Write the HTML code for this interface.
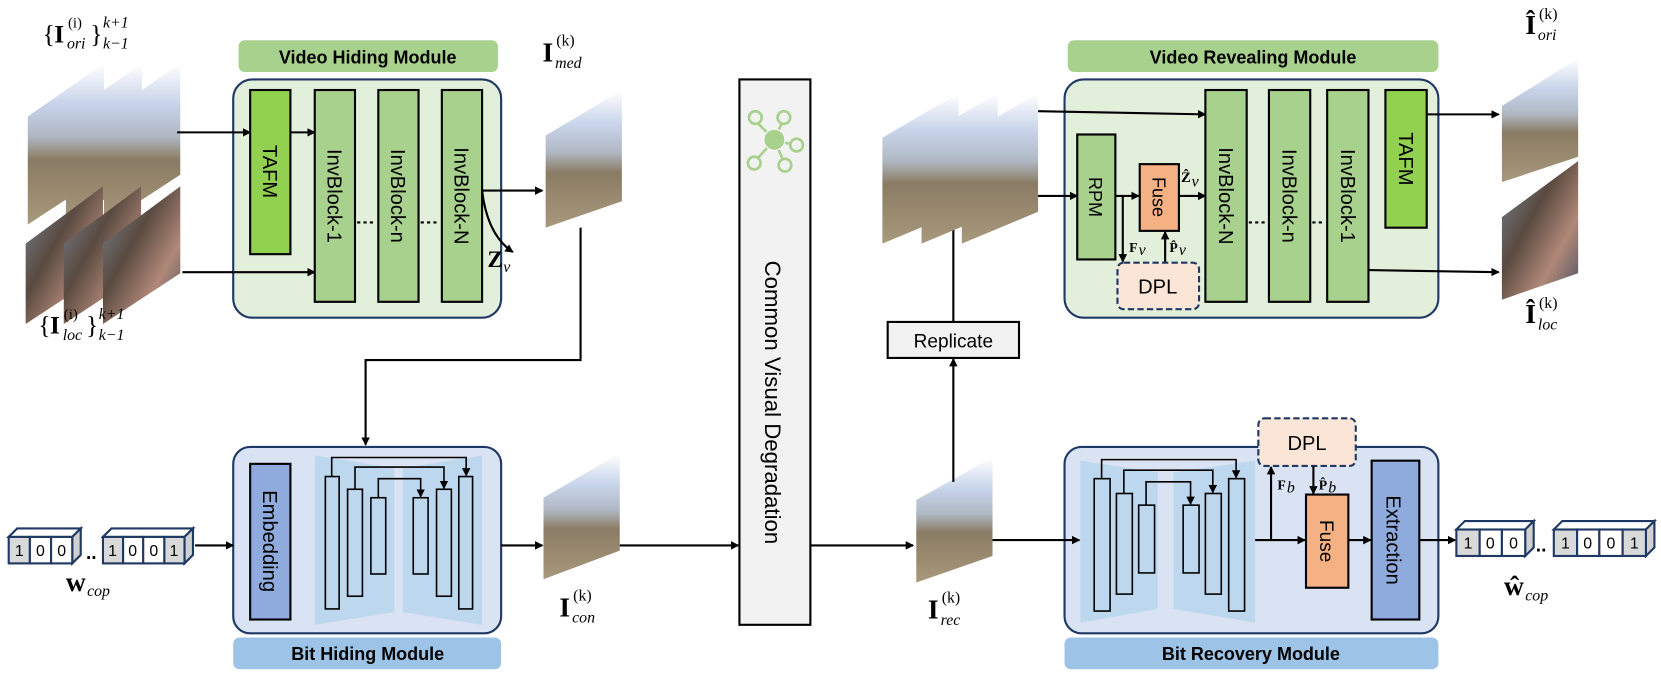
<!DOCTYPE html>
<html><head><meta charset="utf-8"><style>
html,body{margin:0;padding:0;background:#fff;}
svg{display:block;}
.t{font-family:"Liberation Sans",sans-serif;}
.m{font-family:"Liberation Serif",serif;}
.s{font-size:15px;font-style:italic;}
</style></head><body>
<svg width="1661" height="682" viewBox="0 0 1568 644" xmlns="http://www.w3.org/2000/svg">
<defs>
<marker id="a" markerWidth="8" markerHeight="8" refX="7" refY="4" orient="auto" markerUnits="userSpaceOnUse"><path d="M0,0 L8,4 L0,8 Z" fill="#000"/></marker>
<linearGradient id="land" x1="0" y1="0" x2="0" y2="1">
<stop offset="0" stop-color="#ffffff"/><stop offset="0.25" stop-color="#c8d4ea"/><stop offset="0.45" stop-color="#b0b8c4"/><stop offset="0.6" stop-color="#8a7c64"/><stop offset="1" stop-color="#a8987c"/></linearGradient>
<linearGradient id="face" x1="0" y1="0" x2="1" y2="1">
<stop offset="0" stop-color="#7a8898"/><stop offset="0.4" stop-color="#5a4a40"/><stop offset="0.7" stop-color="#b08878"/><stop offset="1" stop-color="#4a5060"/></linearGradient>
</defs>

<!-- input frames ori -->
<polygon points="26,110 98,60 98,165 26,212" fill="url(#land)"/>
<polygon points="62,110 134,60 134,165 62,212" fill="url(#land)"/>
<polygon points="98,110 170,60 170,165 98,212" fill="url(#land)"/>
<polygon points="24,230 97,176 97,258 24,306" fill="url(#face)"/>
<polygon points="60,230 133,176 133,258 60,306" fill="url(#face)"/>
<polygon points="97,230 170,176 170,258 97,306" fill="url(#face)"/>
<g class="m">
<text x="40" y="40" font-size="24">{</text>
<text x="51" y="40" font-size="24" font-weight="bold">I</text>
<text x="64" y="26" font-size="14">(i)</text>
<text x="63" y="46" class="s" font-size="15">ori</text>
<text x="85" y="40" font-size="24">}</text>
<text x="97" y="26" class="s" font-size="15">k+1</text>
<text x="97" y="46" class="s" font-size="15">k−1</text>

<text x="36" y="315" font-size="24">{</text>
<text x="47" y="315" font-size="24" font-weight="bold">I</text>
<text x="60" y="301" font-size="14">(i)</text>
<text x="59" y="321" class="s" font-size="15">loc</text>
<text x="81" y="315" font-size="24">}</text>
<text x="93" y="301" class="s" font-size="15">k+1</text>
<text x="93" y="321" class="s" font-size="15">k−1</text>
</g>

<!-- Video Hiding Module -->
<rect x="225" y="38" width="245" height="30" rx="6" fill="#a9d18e"/>
<text class="t" x="347" y="60" font-size="17" font-weight="bold" text-anchor="middle">Video Hiding Module</text>
<rect x="220" y="75" width="253" height="225" rx="18" fill="#e2efda" stroke="#1f3864" stroke-width="2"/>
<rect x="236" y="85" width="38" height="155" fill="#92d050" stroke="#000" stroke-width="2"/>
<rect x="297" y="85" width="38" height="200" fill="#a9d18e" stroke="#000" stroke-width="2"/>
<rect x="357" y="85" width="38" height="200" fill="#a9d18e" stroke="#000" stroke-width="2"/>
<rect x="417" y="85" width="38" height="200" fill="#a9d18e" stroke="#000" stroke-width="2"/>
<g class="t" font-size="19">
<text transform="translate(248,162) rotate(90)" text-anchor="middle">TAFM</text>
<text transform="translate(309,185) rotate(90)" text-anchor="middle">InvBlock-1</text>
<text transform="translate(369,185) rotate(90)" text-anchor="middle">InvBlock-n</text>
<text transform="translate(429,185) rotate(90)" text-anchor="middle">InvBlock-N</text>
</g>
<line x1="337" y1="210" x2="355" y2="210" stroke="#000" stroke-width="2" stroke-dasharray="3,3"/>
<line x1="397" y1="210" x2="415" y2="210" stroke="#000" stroke-width="2" stroke-dasharray="3,3"/>
<line x1="167" y1="125" x2="236" y2="125" stroke="#000" stroke-width="2" marker-end="url(#a)"/>
<line x1="274" y1="125" x2="297" y2="125" stroke="#000" stroke-width="2" marker-end="url(#a)"/>
<line x1="172" y1="257" x2="297" y2="257" stroke="#000" stroke-width="2" marker-end="url(#a)"/>
<line x1="455" y1="180" x2="512" y2="180" stroke="#000" stroke-width="2" marker-end="url(#a)"/>
<path d="M455,180 Q460,222 484,238" fill="none" stroke="#000" stroke-width="2" marker-end="url(#a)"/>
<g class="m">
<text x="460" y="252" font-size="22" font-weight="bold">Z</text>
<text x="475" y="257" class="s" font-size="14">v</text>

<text x="512" y="58" font-size="26" font-weight="bold">I</text>
<text x="525" y="43" font-size="15">(k)</text>
<text x="524" y="64" class="s">med</text>

<text x="528" y="582" font-size="26" font-weight="bold">I</text>
<text x="541" y="567" font-size="15">(k)</text>
<text x="540" y="588" class="s">con</text>

<text x="876" y="584" font-size="26" font-weight="bold">I</text>
<text x="889" y="569" font-size="15">(k)</text>
<text x="888" y="590" class="s">rec</text>

<text x="1440" y="32" font-size="26" font-weight="bold">Î</text>
<text x="1453" y="18" font-size="15">(k)</text>
<text x="1452" y="38" class="s">ori</text>

<text x="1440" y="305" font-size="26" font-weight="bold">Î</text>
<text x="1453" y="291" font-size="15">(k)</text>
<text x="1452" y="311" class="s">loc</text>
</g>

<polygon points="515,128 587,85 587,190 515,215" fill="url(#land)"/>
<polyline points="548,215 548,340 345,340 345,420" fill="none" stroke="#000" stroke-width="2" marker-end="url(#a)"/>

<!-- Bit Hiding Module -->
<rect x="220" y="422" width="253" height="176" rx="16" fill="#dae3f3" stroke="#1f3864" stroke-width="2"/>
<rect x="220" y="602" width="253" height="30" rx="6" fill="#9dc3e6"/>
<text class="t" x="347" y="623" font-size="17" font-weight="bold" text-anchor="middle">Bit Hiding Module</text>
<rect x="236" y="438" width="38" height="147" fill="#8faadc" stroke="#000" stroke-width="2"/>
<text class="t" transform="translate(248,511) rotate(90)" font-size="19" text-anchor="middle">Embedding</text>
<polygon points="297,430 372,442 372,578 297,590" fill="#bdd7ee"/>
<polygon points="380,442 455,430 455,590 380,578" fill="#bdd7ee"/>
<g fill="#bdd7ee" stroke="#000" stroke-width="1.5">
<rect x="307" y="450" width="13" height="125"/><rect x="328" y="462" width="14" height="101"/><rect x="350" y="470" width="14" height="72"/>
<rect x="390" y="470" width="14" height="72"/><rect x="412" y="462" width="14" height="101"/><rect x="433" y="450" width="13" height="125"/>
</g>
<g fill="none" stroke="#000" stroke-width="1.5">
<polyline points="313,450 313,432 440,432 440,449" marker-end="url(#a)"/>
<polyline points="335,462 335,441 419,441 419,461" marker-end="url(#a)"/>
<polyline points="357,470 357,452 397,452 397,469" marker-end="url(#a)"/>
</g>

<!-- bits left -->
<g stroke="#1f3864" stroke-width="2">
<polygon points="8,507 16,499 76,499 68,507" fill="#fff"/>
<polygon points="68,507 76,499 76,524 68,532" fill="#d0d0d0"/>
<rect x="8" y="507" width="20" height="25" fill="#d9d9d9"/><rect x="28" y="507" width="20" height="25" fill="#fff"/><rect x="48" y="507" width="20" height="25" fill="#fff"/>
<polygon points="97,507 105,499 182,499 174,507" fill="#fff"/>
<polygon points="174,507 182,499 182,524 174,532" fill="#d0d0d0"/>
<rect x="97" y="507" width="19" height="25" fill="#d9d9d9"/><rect x="116" y="507" width="19" height="25" fill="#fff"/><rect x="135" y="507" width="20" height="25" fill="#fff"/><rect x="155" y="507" width="19" height="25" fill="#d9d9d9"/>
</g>
<g class="t" font-size="15" text-anchor="middle">
<text x="18" y="525">1</text><text x="38" y="525">0</text><text x="58" y="525">0</text>
<text x="86" y="528" font-weight="bold" font-size="18">..</text>
<text x="106" y="525">1</text><text x="125" y="525">0</text><text x="145" y="525">0</text><text x="164" y="525">1</text>
</g>
<line x1="184" y1="515" x2="220" y2="515" stroke="#000" stroke-width="2" marker-end="url(#a)"/>
<text class="m" x="62" y="558" font-size="26" font-weight="bold">w</text>
<text class="m s" x="82" y="563" font-size="19">cop</text>

<!-- I_con -->
<line x1="473" y1="515" x2="512" y2="515" stroke="#000" stroke-width="2" marker-end="url(#a)"/>
<polygon points="513,470 585,428 585,520 513,547" fill="url(#land)"/>
<line x1="585" y1="515" x2="697" y2="515" stroke="#000" stroke-width="2" marker-end="url(#a)"/>

<!-- CVD -->
<rect x="698" y="75" width="67" height="515" fill="#f2f2f2" stroke="#000" stroke-width="2"/>
<g stroke="#a9d18e" stroke-width="2.5" fill="none">
<line x1="731" y1="132" x2="713" y2="114"/><line x1="731" y1="132" x2="739" y2="114"/><line x1="731" y1="132" x2="750" y2="137"/><line x1="731" y1="132" x2="713" y2="152"/><line x1="731" y1="132" x2="740" y2="153"/>
<circle cx="713" cy="111" r="6" fill="#f2f2f2"/><circle cx="740" cy="111" r="6" fill="#f2f2f2"/><circle cx="752" cy="137" r="6" fill="#f2f2f2"/><circle cx="712" cy="154" r="6" fill="#f2f2f2"/><circle cx="741" cy="156" r="6" fill="#f2f2f2"/>
<circle cx="731" cy="132" r="10" fill="#a9d18e" stroke="#fff" stroke-width="1"/>
</g>
<text class="t" transform="translate(722,380) rotate(90)" font-size="21" text-anchor="middle">Common Visual Degradation</text>
<line x1="765" y1="515" x2="862" y2="515" stroke="#000" stroke-width="2" marker-end="url(#a)"/>

<!-- I_rec -->
<polygon points="865,472 937,432 937,525 865,550" fill="url(#land)"/>
<line x1="900" y1="455" x2="900" y2="339" stroke="#000" stroke-width="2" marker-end="url(#a)"/>
<rect x="838" y="304" width="124" height="34" fill="#f2f2f2" stroke="#000" stroke-width="2"/>
<text class="t" x="900" y="328" font-size="18" text-anchor="middle">Replicate</text>
<line x1="900" y1="304" x2="900" y2="188" stroke="#000" stroke-width="2" marker-end="url(#a)"/>

<polygon points="833,130 905,88 905,200 833,230" fill="url(#land)"/>
<polygon points="870,130 942,88 942,200 870,230" fill="url(#land)"/>
<polygon points="908,130 980,88 980,200 908,230" fill="url(#land)"/>

<!-- Video Revealing Module -->
<rect x="1008" y="38" width="350" height="30" rx="6" fill="#a9d18e"/>
<text class="t" x="1183" y="60" font-size="17" font-weight="bold" text-anchor="middle">Video Revealing Module</text>
<rect x="1005" y="75" width="353" height="225" rx="18" fill="#e2efda" stroke="#1f3864" stroke-width="2"/>
<line x1="980" y1="105" x2="1138" y2="108" stroke="#000" stroke-width="2" marker-end="url(#a)"/>
<line x1="980" y1="185" x2="1017" y2="185" stroke="#000" stroke-width="2" marker-end="url(#a)"/>
<rect x="1017" y="127" width="36" height="118" fill="#a9d18e" stroke="#000" stroke-width="2"/>
<text class="t" transform="translate(1028,186) rotate(90)" font-size="17" text-anchor="middle">RPM</text>
<line x1="1053" y1="185" x2="1075" y2="185" stroke="#000" stroke-width="2" marker-end="url(#a)"/>
<rect x="1076" y="155" width="37" height="63" fill="#f4b183" stroke="#000" stroke-width="2"/>
<text class="t" transform="translate(1088,186) rotate(90)" font-size="17" text-anchor="middle">Fuse</text>
<text class="m" x="1115" y="172" font-size="14" font-weight="bold">Ẑ</text>
<text class="m s" x="1125" y="176" font-size="10">v</text>
<line x1="1113" y1="185" x2="1138" y2="185" stroke="#000" stroke-width="2" marker-end="url(#a)"/>
<line x1="1060" y1="185" x2="1060" y2="247" stroke="#000" stroke-width="2" marker-end="url(#a)"/>
<line x1="1100" y1="248" x2="1100" y2="219" stroke="#000" stroke-width="2" marker-end="url(#a)"/>
<rect x="1055" y="248" width="77" height="44" rx="6" fill="#fbe5d6" stroke="#1f3864" stroke-width="2" stroke-dasharray="6,3"/>
<text class="t" x="1093" y="277" font-size="19" text-anchor="middle">DPL</text>
<text class="m" x="1066" y="238" font-size="13" font-weight="bold">F</text><text class="m s" x="1075" y="241" font-size="9">v</text>
<text class="m" x="1104" y="238" font-size="13" font-weight="bold">P̂</text><text class="m s" x="1113" y="241" font-size="9">v</text>
<rect x="1138" y="85" width="39" height="200" fill="#a9d18e" stroke="#000" stroke-width="2"/>
<rect x="1198" y="85" width="39" height="200" fill="#a9d18e" stroke="#000" stroke-width="2"/>
<rect x="1253" y="85" width="39" height="200" fill="#a9d18e" stroke="#000" stroke-width="2"/>
<rect x="1308" y="85" width="39" height="130" fill="#92d050" stroke="#000" stroke-width="2"/>
<g class="t" font-size="19">
<text transform="translate(1151,185) rotate(90)" text-anchor="middle">InvBlock-N</text>
<text transform="translate(1211,185) rotate(90)" text-anchor="middle">InvBlock-n</text>
<text transform="translate(1266,185) rotate(90)" text-anchor="middle">InvBlock-1</text>
<text transform="translate(1321,150) rotate(90)" text-anchor="middle">TAFM</text>
</g>
<line x1="1179" y1="210" x2="1196" y2="210" stroke="#000" stroke-width="2" stroke-dasharray="3,3"/>
<line x1="1239" y1="210" x2="1251" y2="210" stroke="#000" stroke-width="2" stroke-dasharray="3,3"/>
<line x1="1347" y1="108" x2="1415" y2="108" stroke="#000" stroke-width="2" marker-end="url(#a)"/>
<line x1="1292" y1="255" x2="1415" y2="257" stroke="#000" stroke-width="2" marker-end="url(#a)"/>

<polygon points="1418,100 1490,55 1490,148 1418,172" fill="url(#land)"/>
<polygon points="1418,205 1490,152 1490,258 1418,283" fill="url(#face)"/>

<!-- Bit Recovery Module -->
<rect x="1005" y="422" width="353" height="176" rx="16" fill="#dae3f3" stroke="#1f3864" stroke-width="2"/>
<rect x="1005" y="602" width="353" height="30" rx="6" fill="#9dc3e6"/>
<text class="t" x="1181" y="623" font-size="17" font-weight="bold" text-anchor="middle">Bit Recovery Module</text>
<line x1="937" y1="510" x2="1019" y2="510" stroke="#000" stroke-width="2" marker-end="url(#a)"/>
<polygon points="1020,435 1093,446 1093,575 1020,588" fill="#bdd7ee"/>
<polygon points="1108,446 1185,435 1185,588 1108,575" fill="#bdd7ee"/>
<g fill="#bdd7ee" stroke="#000" stroke-width="1.5">
<rect x="1033" y="452" width="15" height="125"/><rect x="1054" y="466" width="15" height="95"/><rect x="1075" y="477" width="15" height="64"/>
<rect x="1117" y="477" width="15" height="64"/><rect x="1138" y="466" width="15" height="95"/><rect x="1160" y="452" width="15" height="125"/>
</g>
<g fill="none" stroke="#000" stroke-width="1.5">
<polyline points="1040,452 1040,434 1167,434 1167,451" marker-end="url(#a)"/>
<polyline points="1061,466 1061,444 1145,444 1145,465" marker-end="url(#a)"/>
<polyline points="1082,477 1082,455 1124,455 1124,476" marker-end="url(#a)"/>
</g>
<line x1="1185" y1="510" x2="1232" y2="510" stroke="#000" stroke-width="2" marker-end="url(#a)"/>
<line x1="1200" y1="510" x2="1200" y2="441" stroke="#000" stroke-width="2" marker-end="url(#a)"/>
<rect x="1188" y="395" width="92" height="45" rx="6" fill="#fbe5d6" stroke="#1f3864" stroke-width="2" stroke-dasharray="6,3"/>
<text class="t" x="1234" y="425" font-size="19" text-anchor="middle">DPL</text>
<line x1="1240" y1="440" x2="1240" y2="466" stroke="#000" stroke-width="2" marker-end="url(#a)"/>
<text class="m" x="1206" y="462" font-size="13" font-weight="bold">F</text><text class="m s" x="1215" y="465" font-size="9">b</text>
<text class="m" x="1245" y="462" font-size="13" font-weight="bold">P̂</text><text class="m s" x="1254" y="465" font-size="9">b</text>
<rect x="1233" y="467" width="40" height="88" fill="#f4b183" stroke="#000" stroke-width="2"/>
<text class="t" transform="translate(1246,511) rotate(90)" font-size="18" text-anchor="middle">Fuse</text>
<line x1="1273" y1="510" x2="1294" y2="510" stroke="#000" stroke-width="2" marker-end="url(#a)"/>
<rect x="1295" y="435" width="45" height="150" fill="#8faadc" stroke="#000" stroke-width="2"/>
<text class="t" transform="translate(1309,510) rotate(90)" font-size="19" text-anchor="middle">Extraction</text>
<line x1="1340" y1="510" x2="1374" y2="510" stroke="#000" stroke-width="2" marker-end="url(#a)"/>

<!-- bits right -->
<g stroke="#1f3864" stroke-width="2">
<polygon points="1375,500 1383,492 1448,492 1440,500" fill="#fff"/>
<polygon points="1440,500 1448,492 1448,517 1440,525" fill="#d0d0d0"/>
<rect x="1375" y="500" width="22" height="25" fill="#d9d9d9"/><rect x="1397" y="500" width="21" height="25" fill="#fff"/><rect x="1418" y="500" width="22" height="25" fill="#fff"/>
<polygon points="1467,500 1475,492 1562,492 1554,500" fill="#fff"/>
<polygon points="1554,500 1562,492 1562,517 1554,525" fill="#d0d0d0"/>
<rect x="1467" y="500" width="22" height="25" fill="#d9d9d9"/><rect x="1489" y="500" width="21" height="25" fill="#fff"/><rect x="1510" y="500" width="22" height="25" fill="#fff"/><rect x="1532" y="500" width="22" height="25" fill="#d9d9d9"/>
</g>
<g class="t" font-size="15" text-anchor="middle">
<text x="1386" y="518">1</text><text x="1407" y="518">0</text><text x="1429" y="518">0</text>
<text x="1455" y="521" font-weight="bold" font-size="18">..</text>
<text x="1478" y="518">1</text><text x="1499" y="518">0</text><text x="1521" y="518">0</text><text x="1543" y="518">1</text>
</g>
<text class="m" x="1420" y="562" font-size="26" font-weight="bold">ŵ</text>
<text class="m s" x="1440" y="567" font-size="19">cop</text>
</svg>
</body></html>
